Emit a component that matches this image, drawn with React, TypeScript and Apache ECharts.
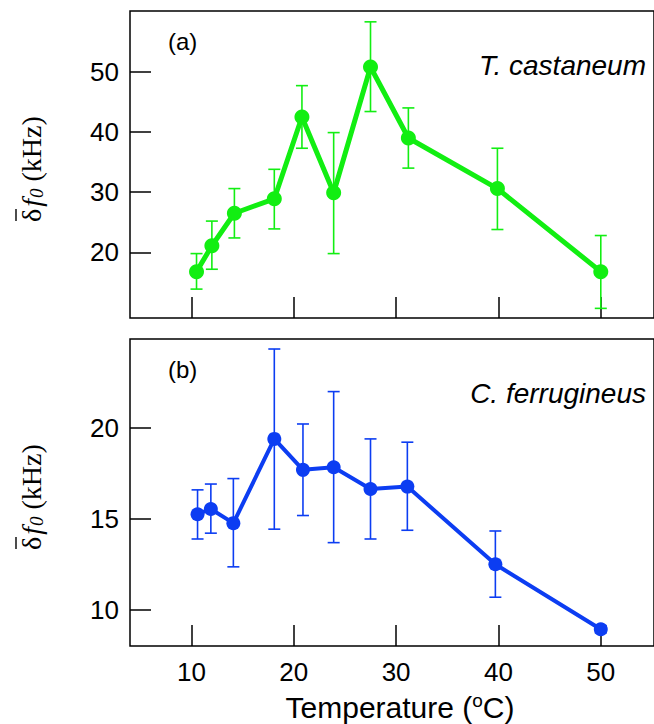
import React, { useEffect, useRef } from "react";
import * as echarts from "echarts";

const xTicks = [10, 20, 30, 40, 50];
const yTicksTop = [20, 30, 40, 50];
const yTicksBottom = [10, 15, 20];

const tempsA = [10.5, 12.0, 14.2, 18.1, 20.8, 23.9, 27.5, 31.2, 39.9, 50.0];
const valsA = [16.8, 21.1, 26.5, 28.9, 42.5, 29.9, 50.8, 39.0, 30.6, 16.8];
const hiA = [19.8, 25.2, 30.6, 33.8, 47.7, 39.9, 58.3, 44.0, 37.3, 22.8];
const loA = [13.9, 17.2, 22.4, 23.9, 37.3, 19.8, 43.4, 34.0, 23.8, 10.7];

const tempsB = [10.6, 11.9, 14.1, 18.1, 20.9, 23.9, 27.5, 31.1, 39.7, 50.0];
const valsB = [15.24, 15.53, 14.75, 19.38, 17.68, 17.82, 16.63, 16.76, 12.49, 8.92];
const hiB = [16.58, 16.9, 17.2, 24.32, 20.2, 21.98, 19.38, 19.2, 14.32, 9.12];
const loB = [13.88, 14.2, 12.35, 14.42, 15.17, 13.68, 13.88, 14.36, 10.68, 8.72];

const GREEN = "#12ee12";
const BLUE = "#0c3df2";
const SANS = "Liberation Sans, Arial, sans-serif";
const SERIF = "Liberation Serif, Times New Roman, serif";

function errRender(color: string) {
  return (params: any, api: any) => {
    const x = api.value(0);
    const lo = api.value(1);
    const hi = api.value(2);
    const p1 = api.coord([x, lo]);
    const p2 = api.coord([x, hi]);
    const w = 6;
    const st = { stroke: color, lineWidth: 1.6 };
    return {
      type: "group",
      children: [
        { type: "line", shape: { x1: p1[0], y1: p1[1], x2: p2[0], y2: p2[1] }, style: st },
        { type: "line", shape: { x1: p1[0] - w, y1: p1[1], x2: p1[0] + w, y2: p1[1] }, style: st },
        { type: "line", shape: { x1: p2[0] - w, y1: p2[1], x2: p2[0] + w, y2: p2[1] }, style: st },
      ],
    };
  };
}

export default function App() {
  const ref = useRef<HTMLDivElement>(null);
  useEffect(() => {
    if (!ref.current) return;
    const chart = echarts.init(ref.current, null, { renderer: "svg" });
    const axisTick = { show: true, inside: true, length: 21, lineStyle: { color: "#000", width: 1.5 } };
    const mkX = (idx: number, showLabel: boolean) => ({
      type: "value",
      gridIndex: idx,
      min: 4,
      max: 55.2,
      axisLine: { show: false },
      splitLine: { show: false },
      axisTick: { ...axisTick, customValues: xTicks },
      axisLabel: {
        show: showLabel,
        customValues: xTicks,
        color: "#000",
        fontSize: 26,
        fontFamily: SANS,
        margin: 13,
      },
    });
    const mkY = (idx: number, min: number, max: number, ticks: number[]) => ({
      type: "value",
      gridIndex: idx,
      min,
      max,
      axisLine: { show: false },
      splitLine: { show: false },
      axisTick: { ...axisTick, customValues: ticks },
      axisLabel: {
        customValues: ticks,
        color: "#000",
        fontSize: 26,
        fontFamily: SANS,
        margin: 11,
      },
    });
    const yName = (y: number) => ({
      type: "group",
      x: 30,
      y,
      rotation: Math.PI / 2,
      children: [
        {
          type: "text",
          x: -58,
          y: 1,
          style: {
            text: "{d|δ}{f|f}{s|0}{n| (kHz)}",
            align: "left",
            verticalAlign: "middle",
            fill: "#000",
            rich: {
              d: { fontFamily: SERIF, fontSize: 28, fill: "#000" },
              f: { fontFamily: SERIF, fontSize: 28, fontStyle: "italic", fill: "#000", padding: [0, 0, 0, 2] },
              s: { fontFamily: SERIF, fontSize: 19, fontStyle: "italic", fill: "#000", padding: [10, 0, 0, 1] },
              n: { fontFamily: SERIF, fontSize: 28, fill: "#000" },
            },
          },
        },
        {
          type: "line",
          shape: { x1: -57, y1: -14, x2: -45, y2: -14 },
          style: { stroke: "#000", lineWidth: 1.4 },
        },
      ],
    });
    chart.setOption({
      animation: false,
      backgroundColor: "#fff",
      grid: [
        { left: 130, top: 11, width: 526, height: 307, show: true, borderColor: "#000", borderWidth: 1.5, backgroundColor: "transparent" },
        { left: 130, top: 339, width: 526, height: 307, show: true, borderColor: "#000", borderWidth: 1.5, backgroundColor: "transparent" },
      ],
      xAxis: [mkX(0, false), mkX(1, true)],
      yAxis: [mkY(0, 9.1, 60.1, yTicksTop), mkY(1, 8.0, 24.87, yTicksBottom)],
      series: [
        {
          type: "custom",
          xAxisIndex: 0,
          yAxisIndex: 0,
          renderItem: errRender(GREEN),
          data: tempsA.map((t, i) => [t, loA[i], hiA[i]]),
          z: 1,
        },
        {
          type: "line",
          xAxisIndex: 0,
          yAxisIndex: 0,
          data: tempsA.map((t, i) => [t, valsA[i]]),
          lineStyle: { color: GREEN, width: 5 },
          itemStyle: { color: GREEN },
          symbol: "circle",
          symbolSize: 15,
          z: 2,
        },
        {
          type: "custom",
          xAxisIndex: 1,
          yAxisIndex: 1,
          renderItem: errRender(BLUE),
          data: tempsB.map((t, i) => [t, loB[i], hiB[i]]),
          z: 1,
        },
        {
          type: "line",
          xAxisIndex: 1,
          yAxisIndex: 1,
          data: tempsB.map((t, i) => [t, valsB[i]]),
          lineStyle: { color: BLUE, width: 4 },
          itemStyle: { color: BLUE },
          symbol: "circle",
          symbolSize: 14,
          z: 2,
        },
      ],
      graphic: [
        yName(164),
        yName(492),
        { type: "text", x: 168, y: 41, style: { text: "(a)", fontFamily: SANS, fontSize: 24, fill: "#000", align: "left", verticalAlign: "middle" } },
        { type: "text", x: 168, y: 369, style: { text: "(b)", fontFamily: SANS, fontSize: 24, fill: "#000", align: "left", verticalAlign: "middle" } },
        { type: "text", x: 646, y: 65, style: { text: "T. castaneum", fontFamily: SANS, fontSize: 28, fontStyle: "italic", fill: "#000", align: "right", verticalAlign: "middle" } },
        { type: "text", x: 646, y: 393, style: { text: "C. ferrugineus", fontFamily: SANS, fontSize: 28, fontStyle: "italic", fill: "#000", align: "right", verticalAlign: "middle" } },
        {
          type: "text",
          x: 400,
          y: 707,
          style: {
            text: "{t|Temperature (}{o|o}{t|C)}",
            align: "center",
            verticalAlign: "middle",
            rich: {
              t: { fontFamily: SANS, fontSize: 30, fill: "#000" },
              o: { fontFamily: SANS, fontSize: 19, fill: "#000", padding: [0, 0, 14, 0] },
            },
          },
        },
      ],
    });
    return () => chart.dispose();
  }, []);
  return <div ref={ref} style={{ position: "fixed", left: 0, top: 0, width: 654, height: 724 }} />;
}
